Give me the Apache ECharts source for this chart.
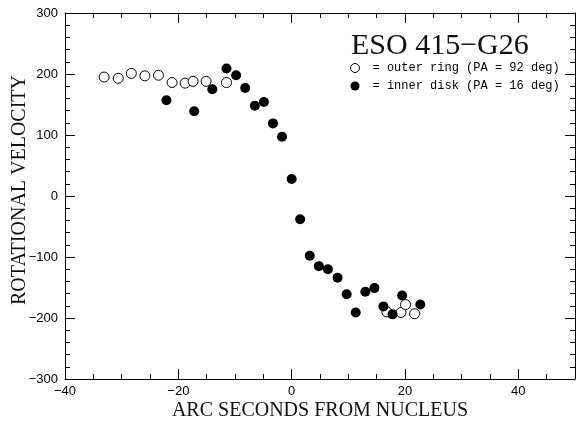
<!DOCTYPE html>
<html>
<head>
<meta charset="utf-8">
<script src="https://cdn.jsdelivr.net/npm/echarts@6/dist/echarts.min.js"></script>
<style>
  html, body { margin: 0; padding: 0; background: #fff; }
  #chart { width: 579px; height: 428px; }
</style>
</head>
<body>
<div id="chart"></div>
<script>
// outer ring (open circles)
var outerX = [-33.1, -30.6, -28.3, -25.9, -23.5, -21.1, -18.8, -17.4, -15.1, -11.5, 16.8, 19.3, 20.1, 21.7];
var outerY = [195, 193, 201, 197, 198, 186, 185, 188, 188, 186, -190, -191, -178, -193];
// inner disk (filled circles)
var innerX = [-22.1, -17.2, -14.0, -11.5, -9.8, -8.2, -6.5, -4.9, -3.3, -1.7, 0.0, 1.5, 3.2, 4.8, 6.4, 8.1, 9.7, 11.3, 13.0, 14.6, 16.2, 17.8, 19.5, 22.7];
var innerY = [157, 139, 175, 209, 198, 177, 148, 154, 119, 97, 28, -38, -98, -115, -120, -134, -161, -191, -157, -151, -181, -194, -163, -178];

var xRange = [-40, 50];
var yRange = [-300, 300];
var xMajor = 20, xMinor = 5;
var yMajor = 100, yMinor = 20;

var titleText = 'ESO 415\u2212G26';
var outerName = '= outer ring (PA = 92 deg)';
var innerName = '= inner disk (PA = 16 deg)';

function pairs(xs, ys) {
	var out = [];
	for (var i = 0; i < xs.length; i++) out.push([xs[i], ys[i]]);
	return out;
}
function minus(v) {
	return String(v).replace('-', '\u2212');
}

var lineStyle = { color: '#000', width: 1 };
var labelStyle = { color: '#000', fontFamily: 'Liberation Sans', fontSize: 13 };

function xAxisDef(pos, major, showLabel) {
	return {
		type: 'value', position: pos, min: xRange[0], max: xRange[1],
		interval: major ? xMajor : xMinor,
		axisLine: { show: major, onZero: false, lineStyle: lineStyle },
		axisTick: { inside: true, length: major ? 10 : 5, lineStyle: lineStyle },
		axisLabel: {
			show: showLabel, margin: 6,
			formatter: function (v) { return v % 20 === 0 ? minus(v) : ''; }
		},
		splitLine: { show: false }
	};
}
function yAxisDef(pos, major, showLabel) {
	return {
		type: 'value', position: pos, min: yRange[0], max: yRange[1],
		interval: major ? yMajor : yMinor,
		axisLine: { show: major, onZero: false, lineStyle: lineStyle },
		axisTick: { inside: true, length: major ? 10 : 5, lineStyle: lineStyle },
		axisLabel: { show: showLabel, margin: 7, formatter: minus },
		splitLine: { show: false }
	};
}

var xAxes = [xAxisDef('bottom', true, true), xAxisDef('bottom', false, false),
	xAxisDef('top', true, false), xAxisDef('top', false, false)];
var yAxes = [yAxisDef('left', true, true), yAxisDef('left', false, false),
	yAxisDef('right', true, false), yAxisDef('right', false, false)];

xAxes[0].axisLabel = Object.assign(xAxes[0].axisLabel, labelStyle);
yAxes[0].axisLabel = Object.assign(yAxes[0].axisLabel, labelStyle);

xAxes[0].name = 'ARC SECONDS FROM NUCLEUS';
xAxes[0].nameLocation = 'middle';
xAxes[0].nameGap = 22;
xAxes[0].nameMoveOverlap = false;
xAxes[0].nameTextStyle = { fontFamily: 'Liberation Serif', fontSize: 20, color: '#111' };

yAxes[0].name = 'ROTATIONAL VELOCITY';
yAxes[0].nameLocation = 'middle';
yAxes[0].nameGap = 35;
yAxes[0].nameMoveOverlap = false;
yAxes[0].nameTextStyle = { fontFamily: 'Liberation Serif', fontSize: 20, color: '#111', padding: [0, 0, 0, 12] };

var myChart = echarts.init(document.getElementById('chart'));
myChart.setOption({
	animation: false,
	backgroundColor: '#fff',
	title: {
		text: titleText, left: 346, top: 26,
		textStyle: { fontFamily: 'Liberation Serif', fontSize: 30, fontWeight: 'normal', color: '#111' }
	},
	legend: {
		orient: 'vertical', left: 350, top: 62, padding: 0,
		itemGap: 6, itemWidth: 9, itemHeight: 9,
		itemStyle: { borderWidth: 1 },
		data: [{ name: outerName, icon: 'circle' }, { name: innerName, icon: 'circle' }],
		textStyle: { fontFamily: 'Liberation Mono', fontSize: 12, color: '#000', padding: [0, 0, 0, 8] }
	},
	grid: { left: 65, right: 4, top: 13, bottom: 49, containLabel: false, outerBoundsMode: 'none' },
	xAxis: xAxes,
	yAxis: yAxes,
	series: [
		{
			name: outerName, type: 'scatter', symbol: 'circle', symbolSize: 10,
			itemStyle: { color: '#fff', borderColor: '#000', borderWidth: 1, opacity: 1 },
			data: pairs(outerX, outerY)
		},
		{
			name: innerName, type: 'scatter', symbol: 'circle', symbolSize: 10,
			itemStyle: { color: '#000', opacity: 1 },
			data: pairs(innerX, innerY)
		}
	]
});
</script>
</body>
</html>
